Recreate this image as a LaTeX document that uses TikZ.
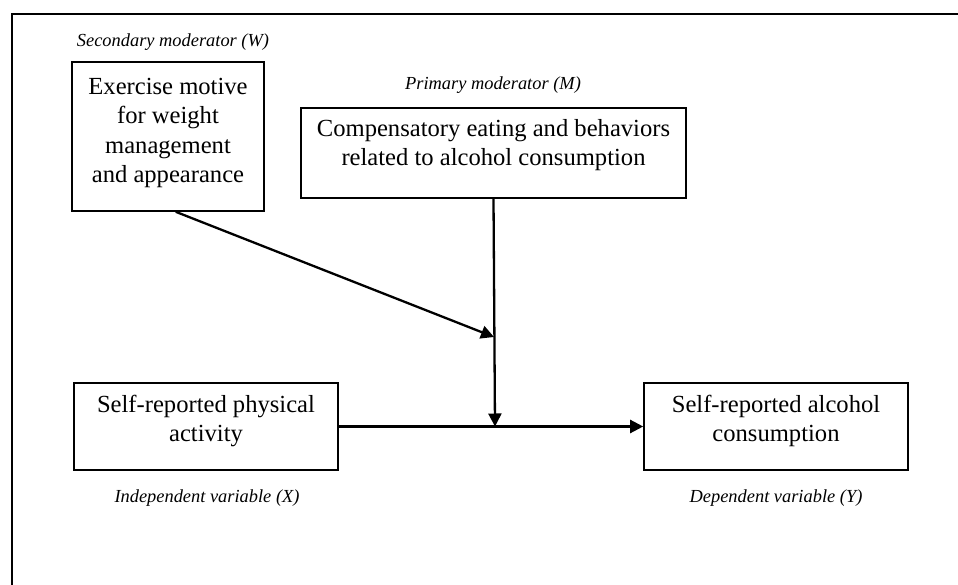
\documentclass[tikz,border=0pt]{standalone}
\usepackage{fontspec}
\setmainfont{Liberation Serif}
\usetikzlibrary{arrows.meta,calc}
\tikzset{
  boxstyle/.style={draw=black, line width=1.6pt, minimum width=#1, inner sep=0pt},
  boxtext/.style={align=center, inner sep=0pt, font=\fontsize{24.6}{29.5}\selectfont},
  labeltext/.style={inner sep=0pt, font=\fontsize{18.4}{22}\selectfont\itshape},
  arrowline/.style={line width=2.3pt, -{Triangle[length=13pt,width=13pt]}}
}
\begin{document}
\begin{tikzpicture}[x=1pt,y=-1pt]
\useasboundingbox (0,0) rectangle (958,585);
% outer frame
\draw[line width=2.2pt] (12,585) -- (12,14) -- (958,14);
% boxes
\node[boxstyle=192pt, minimum height=149pt] (W) at (168,136.5) {};
\node[boxstyle=385pt, minimum height=90pt] (M) at (493.5,153) {};
\node[boxstyle=264pt, minimum height=87pt] (X) at (206,426.5) {};
\node[boxstyle=264pt, minimum height=87pt] (Y) at (776,426.5) {};
% box texts
\node[boxtext] (Wt) at (168,133) {Exercise motive\\for weight\\management\\and appearance};
\node[boxtext] (Mt) at (493.5,145) {Compensatory eating and behaviors\\related to alcohol consumption};
\node[boxtext] (Xt) at (206,421) {Self-reported physical\\activity};
\node[boxtext] (Yt) at (776,421) {Self-reported alcohol\\consumption};
% labels
\node[labeltext] (Wl) at (173,42) {Secondary moderator (W)};
\node[labeltext] (Ml) at (493,85) {Primary moderator (M)};
\node[labeltext] (Xl) at (207,498) {Independent variable (X)};
\node[labeltext] (Yl) at (776,498) {Dependent variable (Y)};
% junctions
\coordinate (ws) at ($(W.south west)!0.54!(W.south east)$);
\coordinate (j1) at (494,337);
\coordinate (j2) at (495,426.5);
% connectors
\draw[arrowline] (X.east) -- (Y.west);
\draw[arrowline] (M.south) -- (j2);
\draw[arrowline] (ws) -- (j1);
\end{tikzpicture}
\end{document}
